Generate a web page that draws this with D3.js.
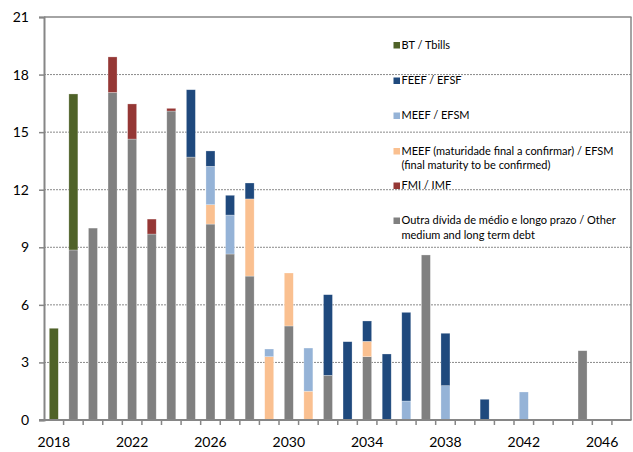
<!DOCTYPE html>
<html>
<head>
<meta charset="utf-8">
<script src="https://cdn.jsdelivr.net/npm/d3@7"></script>
<style>
  body { margin: 0; background: #fff; }
  text { font-family: Lato, "Open Sans", sans-serif; fill: #000; }
</style>
</head>
<body>
<svg id="chart" width="633" height="452"></svg>
<script>
// categories (years) and tick labels
let years = [2018, 2019, 2020, 2021, 2022, 2023, 2024, 2025, 2026, 2027,
             2028, 2029, 2030, 2031, 2032, 2033, 2034, 2035, 2036, 2037,
             2038, 2039, 2040, 2041, 2042, 2043, 2044, 2045, 2046, 2047];
let xTickYears = [2018, 2022, 2026, 2030, 2034, 2038, 2042, 2046];
let yTicks = [0, 3, 6, 9, 12, 15, 18, 21];

// series values (EUR bn), one per year
let other   = [0, 8.86, 10.0, 17.07, 14.64, 9.69, 16.1, 13.7, 10.21, 8.65,
               7.5, 0, 4.9, 0, 2.33, 0, 3.3, 0, 0, 8.6,
               0, 0, 0, 0, 0, 0, 0, 3.61, 0, 0];
let efsmTbc = [0, 0, 0, 0, 0, 0, 0, 0, 1.01, 0,
               4.02, 3.3, 2.76, 1.5, 0, 0, 0.8, 0, 0, 0,
               0, 0, 0, 0, 0, 0, 0, 0, 0, 0];
let efsm    = [0, 0, 0, 0, 0, 0, 0, 0, 2.0, 2.03,
               0, 0.4, 0, 2.25, 0, 0, 0, 0, 0.99, 0,
               1.79, 0, 0, 0, 1.46, 0, 0, 0, 0, 0];
let efsf    = [0, 0, 0, 0, 0, 0, 0, 3.51, 0.8, 1.03,
               0.83, 0, 0, 0, 4.2, 4.08, 1.06, 3.44, 4.62, 0,
               2.73, 0, 1.08, 0, 0, 0, 0, 0, 0, 0];
let imf     = [0, 0, 0, 1.85, 1.83, 0.78, 0.14, 0, 0, 0,
               0, 0, 0, 0, 0, 0, 0, 0, 0, 0,
               0, 0, 0, 0, 0, 0, 0, 0, 0, 0];
let bt      = [4.78, 8.13, 0, 0, 0, 0, 0, 0, 0, 0,
               0, 0, 0, 0, 0, 0, 0, 0, 0, 0,
               0, 0, 0, 0, 0, 0, 0, 0, 0, 0];

let colors = {
  other: '#808080', efsmTbc: '#FAC090', efsm: '#95B3D7',
  efsf: '#1F497D', imf: '#953735', bt: '#4F6228'
};

let svg = d3.select('#chart');
let plotLeft = 44, plotRight = 631.5, plotTop = 17, plotBottom = 420;

let x = d3.scaleBand().domain(years).range([plotLeft, plotRight]).paddingInner(0).paddingOuter(0);
let y = d3.scaleLinear().domain([0, 21]).range([plotBottom, plotTop]);
let barW = x.bandwidth() * 0.46;

// gridlines (dotted)
svg.append('g').selectAll('line')
  .data(yTicks.filter(function(d) { return d > 0 && d < 21; }))
  .enter().append('line')
    .attr('x1', plotLeft).attr('x2', plotRight)
    .attr('y1', function(d) { return y(d); })
    .attr('y2', function(d) { return y(d); })
    .attr('stroke', '#8a8a8a')
    .attr('stroke-width', 1)
    .attr('stroke-dasharray', '2,1');

// top and right frame
svg.append('line').attr('x1', plotLeft).attr('x2', plotRight).attr('y1', y(21)).attr('y2', y(21))
  .attr('stroke', '#868686').attr('stroke-width', 1.5);
svg.append('line').attr('x1', plotRight - 0.5).attr('x2', plotRight - 0.5).attr('y1', y(21)).attr('y2', plotBottom)
  .attr('stroke', '#868686').attr('stroke-width', 1.5);

// stacked bars
let keys = ['other', 'efsmTbc', 'efsm', 'efsf', 'imf', 'bt'];
let series = {other: other, efsmTbc: efsmTbc, efsm: efsm, efsf: efsf, imf: imf, bt: bt};
let table = years.map(function(yr, i) {
  let row = {year: yr};
  keys.forEach(function(k) { row[k] = series[k][i]; });
  return row;
});
let stack = d3.stack().keys(keys)(table);

svg.append('g').selectAll('g')
  .data(stack)
  .enter().append('g')
    .attr('fill', function(d) { return colors[d.key]; })
  .selectAll('rect')
  .data(function(d) { return d.filter(function(p) { return p[1] - p[0] > 0; }); })
  .enter().append('rect')
    .attr('x', function(d) { return x(d.data.year) + (x.bandwidth() - barW) / 2; })
    .attr('width', barW)
    .attr('y', function(d) { return y(d[1]); })
    .attr('height', function(d) { return y(d[0]) - y(d[1]); })
    .attr('stroke', '#ffffff')
    .attr('stroke-opacity', 0.45)
    .attr('stroke-width', 0.6);

// y axis
let yAxis = svg.append('g')
  .attr('transform', 'translate(' + plotLeft + ',0)')
  .call(d3.axisLeft(y).tickValues(yTicks).tickSize(5).tickPadding(10).tickFormat(d3.format('d')));
yAxis.select('.domain').attr('stroke', '#868686').attr('stroke-width', 2);
yAxis.selectAll('.tick line').attr('stroke', '#868686').attr('stroke-width', 1.5);
yAxis.selectAll('.tick text').attr('font-size', 14).attr('font-family', 'Lato').attr('fill', '#000');

// x axis: line, tick marks between bands, labels every 4 years
svg.append('line').attr('x1', plotLeft - 5).attr('x2', plotRight).attr('y1', plotBottom).attr('y2', plotBottom)
  .attr('stroke', '#868686').attr('stroke-width', 2);
svg.append('g').selectAll('line')
  .data(years.slice(1))
  .enter().append('line')
    .attr('x1', function(d) { return x(d); })
    .attr('x2', function(d) { return x(d); })
    .attr('y1', plotBottom).attr('y2', plotBottom + 5)
    .attr('stroke', '#868686').attr('stroke-width', 1.5);
svg.append('g').selectAll('text')
  .data(xTickYears)
  .enter().append('text')
    .attr('x', function(d) { return x(d) + x.bandwidth() / 2; })
    .attr('y', 447)
    .attr('text-anchor', 'middle')
    .attr('font-size', 14)
    .text(function(d) { return d; });

// legend
let legend = [
  {key: 'bt', lines: ['BT / Tbills'], y: 48.5},
  {key: 'efsf', lines: ['FEEF / EFSF'], y: 84},
  {key: 'efsm', lines: ['MEEF / EFSM'], y: 119},
  {key: 'efsmTbc', lines: ['MEEF (maturidade final a confirmar) / EFSM', '(final maturity to be confirmed)'], y: 154.5},
  {key: 'imf', lines: ['FMI / IMF'], y: 189},
  {key: 'other', lines: ['Outra dívida de médio e longo prazo / Other', 'medium and long term debt'], y: 224}
];
legend.forEach(function(item) {
  let g = svg.append('g');
  g.append('rect')
    .attr('x', 393.5).attr('y', item.y - 6.5)
    .attr('width', 6.5).attr('height', 6.5)
    .attr('fill', colors[item.key]);
  item.lines.forEach(function(line, i) {
    g.append('text')
      .attr('x', 401.5)
      .attr('y', item.y + i * 14.5)
      .attr('font-size', 11)
      .text(line);
  });
});
</script>
</body>
</html>
